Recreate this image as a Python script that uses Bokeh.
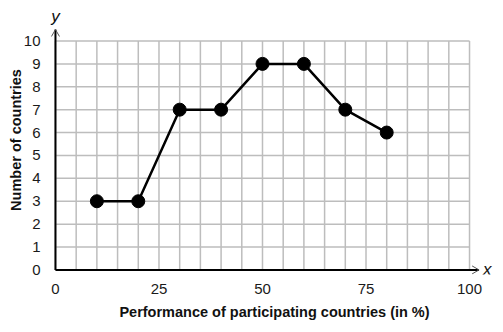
from bokeh.plotting import figure
from bokeh.models import Range1d, FixedTicker
from bokeh.core.properties import value
from bokeh.embed import file_html
from bokeh.resources import INLINE

performance = [10, 20, 30, 40, 50, 60, 70, 80]
countries = [3, 3, 7, 7, 9, 9, 7, 6]
x_ticks = [0, 25, 50, 75, 100]
y_ticks = [0, 1, 2, 3, 4, 5, 6, 7, 8, 9, 10]
x_grid = list(range(0, 101, 5))

X_MAX, Y_MAX = 100, 10
X_TIP, Y_TIP = 102.3, 10.5

p = figure(width=503, height=332, output_backend="svg", toolbar_location=None,
           x_range=Range1d(-1.2, 107.0), y_range=Range1d(-0.2, 11.55),
           min_border_left=50, min_border_right=5, min_border_top=5, min_border_bottom=58)
p.outline_line_color = None
p.xgrid.visible = False
p.ygrid.visible = False
p.background_fill_color = "white"
p.border_fill_color = "white"

for ax in (p.xaxis, p.yaxis):
    ax.axis_line_color = None
    ax.major_tick_line_color = None
    ax.minor_tick_line_color = None
    ax.major_tick_in = 0
    ax.major_tick_out = 0
    ax.minor_tick_in = 0
    ax.minor_tick_out = 0
    ax.major_label_text_font = "Liberation Sans"
    ax.major_label_text_font_size = "15px"
    ax.major_label_text_color = "#1a1a1a"
    ax.axis_label_text_font = "Liberation Sans"
    ax.axis_label_text_font_style = "bold"
    ax.axis_label_text_font_size = "14.5px"
    ax.axis_label_text_color = "#111111"

p.xaxis.ticker = FixedTicker(ticks=x_ticks)
p.yaxis.ticker = FixedTicker(ticks=y_ticks)
p.xaxis.major_label_standoff = 9
p.yaxis.major_label_standoff = 10
p.xaxis.axis_label = "Performance of participating countries (in %)"
p.yaxis.axis_label = "Number of countries"
p.xaxis.axis_label_standoff = 7
p.yaxis.axis_label_standoff = -3

# grid
p.segment(x0=x_grid, y0=[0] * len(x_grid), x1=x_grid, y1=[Y_MAX] * len(x_grid),
          line_color="#bdbdbd", line_width=1.5)
p.segment(x0=[0] * len(y_ticks), y0=y_ticks, x1=[X_MAX] * len(y_ticks), y1=y_ticks,
          line_color="#bdbdbd", line_width=1.5)

# axes with arrows
p.segment(x0=[0, 0], y0=[0, 0], x1=[X_TIP, 0], y1=[0, Y_TIP], line_color="black", line_width=2)
p.ray(x=[X_TIP, X_TIP], y=[0, 0], length=8, length_units="screen",
      angle=[150, 210], angle_units="deg", line_color="#555555", line_width=1)
p.ray(x=[0, 0], y=[Y_TIP, Y_TIP], length=8, length_units="screen",
      angle=[240, 300], angle_units="deg", line_color="#555555", line_width=1)

p.text(x=[X_TIP], y=[0], text=["x"], x_offset=4, text_font=value("Liberation Sans"),
       text_font_style="italic", text_font_size="17px", text_baseline="middle",
       text_align="left", text_color="#111111")
p.text(x=[0], y=[Y_TIP], text=["y"], y_offset=-4, text_font=value("Liberation Sans"),
       text_font_style="italic", text_font_size="17px", text_baseline="bottom",
       text_align="center", text_color="#111111")

p.line(performance, countries, line_color="black", line_width=2.5)
p.scatter(performance, countries, size=13, fill_color="black", line_color="black")

open("out.html", "w").write(file_html(p, INLINE))
